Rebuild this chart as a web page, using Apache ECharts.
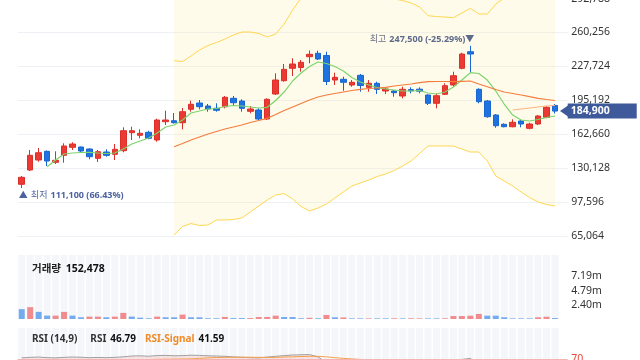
<!DOCTYPE html>
<html>
<head>
<meta charset="utf-8">
<script src="https://cdn.jsdelivr.net/npm/echarts@6/dist/echarts.min.js"></script>
<style>html,body{margin:0;padding:0;background:#fff;}#c{width:640px;height:360px;}</style>
</head>
<body>
<div id="c"></div>
<script>
const days = ['1','2','3','4','5','6','7','8','9','10','11','12','13','14','15','16','17','18','19','20','21','22','23','24','25','26','27','28','29','30','31','32','33','34','35','36','37','38','39','40','41','42','43','44','45','46','47','48','49','50','51','52','53','54','55','56','57','58','59','60','61','62','63','64'];
const opens  = [114650,128370,137960,146300,135750,142470,150140,150430,148510,139590,145630,143430,146880,164150,161650,164530,157140,174690,175660,173730,186590,192630,189750,187550,189080,197140,194550,184670,185920,177290,201270,214030,225920,226700,237040,240300,238200,214690,215370,209900,219200,207690,211530,204140,204140,199350,205500,205900,200310,192350,200980,209900,225920,241840,205770,194550,181120,172200,169900,175370,168360,172490,178920,190240];
const closes = [121360,142470,144960,137000,137670,151390,153310,146590,141130,145920,142470,148220,166060,166060,163570,158770,176330,176330,173730,184290,191390,189080,186880,185630,198100,192920,187550,186880,177290,196180,214700,224960,230040,231670,239350,234840,213260,217280,212490,212490,209420,211530,205770,206060,202510,205770,204300,204000,192350,199640,209230,218820,239630,239630,193880,179490,170860,169900,174120,172490,172490,180160,188510,184900];
const lows   = [111100,127400,136330,132200,134120,135370,147550,144960,138630,136040,141130,137960,145340,157140,158770,157810,155510,171530,172970,167410,184290,186590,184290,184290,187550,190710,184290,182760,176330,176330,200310,213060,218530,222660,230710,233880,209900,209900,204430,208270,203470,203470,201270,201270,198680,197140,201940,201940,190710,187550,200310,208270,224960,221700,192350,178530,168940,169320,169320,169320,167400,171530,177960,182560];
const highs  = [122610,147550,149470,147060,146300,153980,154940,150900,149180,147550,148220,153310,169330,169900,167400,166060,177570,185250,183040,187840,194840,195510,191670,192340,199350,199350,196180,189750,187550,197140,221120,230040,235510,233880,243000,242800,241840,221700,217860,214690,220450,214690,213060,207690,205100,208270,207690,207690,200980,201940,211530,222660,240880,247500,206730,195510,182080,173160,177000,177000,173740,181120,189750,191670];

const ma5  = [null,null,null,131530,137960,143710,144670,145150,145340,144670,144190,144670,148510,153310,156180,159060,163860,169610,171530,176330,183040,184960,186880,187360,189280,190230,189750,188800,187840,188510,195030,203180,213740,221410,227640,231960,230520,227640,223330,217090,212780,209900,207500,206060,205100,204140,204140,204620,202220,201270,203180,207980,214690,221700,220930,214690,204140,191670,181120,176330,175370,176810,178720,180160];
const ma20 = [null,null,null,null,null,null,null,null,null,null,null,null,null,null,null,null,null,null,150720,153790,157140,160020,162900,165300,167690,169610,171530,173930,175850,177960,181600,185440,188800,192150,195510,198390,200310,201750,203180,204620,205770,206540,207020,207690,208940,209900,210860,212100,213060,213260,213260,213060,213450,213740,210860,208270,205580,203180,201750,200310,198680,197140,195990,195030];
const ma60 = [null,null,null,null,null,null,null,null,null,null,null,null,null,null,null,null,null,null,null,null,null,null,null,null,null,null,null,null,null,null,null,null,null,null,null,null,null,null,null,null,null,null,null,null,null,null,null,null,null,null,null,null,null,null,null,null,null,null,185920,186880,187840,188800,189750,190230];
const bollUpper = [null,null,null,null,null,null,null,null,null,null,null,null,null,null,null,null,null,null,233210,232440,237720,243470,247790,250660,254020,257860,260740,260740,259300,255940,258820,268410,281840,293350,302940,310610,314450,316370,316370,314450,310610,305820,301020,296230,292390,290950,288550,284720,276370,275600,275120,274450,278960,283470,278000,278000,287590,293350,299100,302940,304860,305820,305820,305820];
const bollLower = [null,null,null,null,null,null,null,null,null,null,null,null,null,null,null,null,null,null,66020,74170,77050,75130,75610,80410,80410,80890,82320,88080,93840,99590,104390,105830,100550,93360,89040,91920,95750,101510,107260,113020,115900,118770,122130,124530,127890,132200,137000,144190,151390,151390,151390,151390,148510,145630,145630,137000,122610,117820,113020,107260,101990,97670,95270,93840];

const volumes = [1660000,2000000,1200000,570000,570000,1200000,570000,290000,400000,400000,290000,400000,1030000,400000,220000,120000,400000,290000,290000,740000,290000,290000,120000,120000,350000,150000,150000,150000,330000,350000,560000,330000,330000,120000,200000,120000,680000,290000,260000,100000,100000,100000,100000,100000,120000,100000,120000,100000,100000,100000,120000,500000,500000,560000,850000,560000,560000,290000,100000,100000,100000,290000,380000,152478];
const volDir = ['d','u','d','d','u','u','d','d','u','u','d','u','u','d','d','d','u','d','d','u','d','d','d','d','u','d','d','u','u','u','u','d','d','d','u','d','u','d','u','d','d','u','d','d','u','d','u','u','d','d','u','u','u','u','u','d','d','d','d','d','d','u','u','d'];

const rsi = [71.0,71.5,71.8,71.2,71.0,71.5,71.8,71.6,71.2,71.4,71.2,71.5,72.0,72.8,73.0,72.6,73.2,73.4,73.0,73.2,73.6,73.4,73.0,72.8,72.5,72.0,71.5,71.2,71.0,71.8,72.5,73.2,73.8,74.0,74.2,72.0,66.5,64.0,61.0,59.5,58.0,56.5,55.0,53.5,52.0,53.0,52.5,53.5,51.0,55.0,60.0,64.5,69.5,70.5,64.0,57.0,50.0,44.0,42.5,40.0,39.5,42.0,45.5,46.79];
const rsiSignal = [62.0,63.0,64.0,64.5,65.0,65.5,66.0,66.5,67.0,67.5,68.0,68.3,68.6,68.9,69.2,69.4,69.6,69.7,69.8,69.9,70.0,70.5,71.0,71.3,71.5,71.6,71.7,71.6,71.5,71.4,71.5,71.8,72.0,72.3,72.5,72.5,72.0,71.2,70.5,70.0,69.5,68.5,67.0,65.5,64.0,62.5,61.0,59.5,58.5,57.5,57.0,57.5,58.5,60.0,60.5,59.5,57.5,55.0,52.0,49.0,46.5,44.0,42.5,41.59];

const priceTicks = {min: 65064, max: 292788, interval: 32532};
const volTicks = {min: 0, max: 10785000, interval: 2396667};

const cats = days.concat(['']);
const last = closes.length - 1;
let hiIdx = 0, loIdx = 0;
highs.forEach((v,i)=>{ if (v > highs[hiIdx]) hiIdx = i; });
lows.forEach((v,i)=>{ if (v < lows[loIdx]) loIdx = i; });
const fmt = v => Number(v).toLocaleString('en-US');
const hiPct = ((closes[last] - highs[hiIdx]) / highs[hiIdx] * 100).toFixed(2);
const loPct = ((closes[last] - lows[loIdx]) / lows[loIdx] * 100).toFixed(2);

const RED = '#eb3a33', BLUE = '#1f73e0';
const FONT = "'Noto Sans', 'Noto Sans CJK KR', sans-serif";
const L = 17.5, W = 550.2;

const chart = echarts.init(document.getElementById('c'), null, {renderer: 'canvas'});
const xAx = (g) => ({gridIndex: g, type: 'category', data: cats, boundaryGap: true, show: false});
const gridOf = (top, height) => ({left: L, top: top, width: W, height: height, containLabel: false, outerBoundsMode: 'none'});

chart.setOption({
  animation: false,
  textStyle: {fontFamily: FONT},
  title: [
    {left: 32, top: 260.5, padding: 0,
     text: '{a|거래량} {b|' + fmt(volumes[last]) + '}',
     textStyle: {rich: {a: {fontSize: 10.5, color: '#222', fontFamily: FONT}, b: {fontSize: 10.5, fontWeight: 'bold', color: '#111', fontFamily: FONT}}}},
    {left: 32, top: 334, padding: 0,
     text: '{a|RSI (14,9)}{a2|RSI}{b|' + rsi[last].toFixed(2) + '}{c|RSI-Signal}{b|' + rsiSignal[last].toFixed(2) + '}',
     textStyle: {rich: {
       a: {fontSize: 10, color: '#333', fontFamily: FONT},
       a2: {fontSize: 10, color: '#333', fontFamily: FONT, padding: [0, 0, 0, 13]},
       b: {fontSize: 10, fontWeight: 'bold', color: '#111', fontFamily: FONT, padding: [0, 0, 0, 4]},
       c: {fontSize: 10, color: '#f08c2a', fontFamily: FONT, padding: [0, 0, 0, 9]}
     }}}
  ],
  grid: [gridOf(-1.4, 237.4), gridOf(255, 64), gridOf(255, 64), gridOf(328, 103), gridOf(328, 103)],
  xAxis: [xAx(0), xAx(1), xAx(2), xAx(3), xAx(4)],
  yAxis: [
    {gridIndex: 0, type: 'value', position: 'right', min: priceTicks.min, max: priceTicks.max, interval: priceTicks.interval,
     axisLine: {show: false}, axisTick: {show: false},
     splitLine: {lineStyle: {color: '#edf0f5', width: 1}},
     axisLabel: {color: '#333', fontSize: 10.5, margin: 3.5, formatter: v => fmt(v)}},
    {gridIndex: 1, type: 'value', min: 0, max: volTicks.max, show: false},
    {gridIndex: 2, type: 'value', position: 'right', min: volTicks.min, max: volTicks.max, interval: volTicks.interval,
     axisLine: {show: false}, axisTick: {show: false}, splitLine: {show: false},
     axisLabel: {color: '#333', fontSize: 10.5, margin: 3.5, showMaxLabel: false,
       formatter: v => (v > 0 && v < 9000000) ? (v / 1e6).toFixed(2) + 'm' : ''}},
    {gridIndex: 3, type: 'value', min: 0, max: 100, show: false},
    {gridIndex: 4, type: 'value', min: 0, max: 100, show: false}
  ],
  series: [
    {name: 'BB lower', type: 'line', xAxisIndex: 0, yAxisIndex: 0, data: bollLower, symbol: 'none', z: 1,
     lineStyle: {color: '#ffd650', width: 1},
     areaStyle: {origin: 'end', color: 'rgba(255,236,160,0.3)'}},
    {name: 'BB upper', type: 'line', xAxisIndex: 0, yAxisIndex: 0, data: bollUpper, symbol: 'none', z: 1,
     lineStyle: {color: '#ffd650', width: 1}},
    {name: 'price', type: 'candlestick', xAxisIndex: 0, yAxisIndex: 0, barWidth: 6, z: 3,
     data: days.map((d, i) => [opens[i], closes[i], lows[i], highs[i]]),
     itemStyle: {color: RED, color0: BLUE, borderColor: '#dd2f29', borderColor0: '#1866d2', borderWidth: 1},
     markPoint: {
       silent: true,
       data: [
         {coord: [hiIdx, highs[hiIdx]], symbol: 'circle', symbolSize: 0,
          label: {show: true, position: 'inside', align: 'right', verticalAlign: 'middle', offset: [4, -6],
            formatter: '{t|최고} {n|' + fmt(highs[hiIdx]) + ' (' + hiPct + '%)}{n|▼}',
            rich: {t: {fontSize: 9, color: '#6a7085', fontFamily: FONT}, n: {fontSize: 9, color: '#5d6a8a', fontWeight: 'bold', fontFamily: FONT}}}},
         {coord: [loIdx, lows[loIdx]], symbol: 'circle', symbolSize: 0,
          label: {show: true, position: 'inside', align: 'left', verticalAlign: 'middle', offset: [-3, 7.5],
            formatter: '{n|▲} {t|최저} {n|' + fmt(lows[loIdx]) + ' (' + loPct + '%)}',
            rich: {t: {fontSize: 9, color: '#5268a3', fontFamily: FONT}, n: {fontSize: 9, color: '#4c62a0', fontWeight: 'bold', fontFamily: FONT}}}},
         {coord: [last, closes[last]], symbol: 'triangle', symbolRotate: 90, symbolSize: [11, 8], symbolOffset: [9, 0],
          itemStyle: {color: '#3e5a9a'}, label: {show: false}}
       ]
     },
     markLine: {
       silent: true, symbol: 'none',
       lineStyle: {color: 'rgba(0,0,0,0)', width: 0},
       data: [{yAxis: closes[last]}],
       label: {show: true, position: 'end', distance: 0, formatter: fmt(closes[last]),
         backgroundColor: '#3e5a9a', color: '#fff', fontSize: 10.5, fontWeight: 'bold', fontFamily: FONT,
         lineHeight: 11, padding: [2, 27, 2, 3]}
     }},
    {name: 'MA5', type: 'line', xAxisIndex: 0, yAxisIndex: 0, data: ma5, symbol: 'none', z: 4,
     lineStyle: {color: '#7dd46c', width: 1.2}},
    {name: 'MA20', type: 'line', xAxisIndex: 0, yAxisIndex: 0, data: ma20, symbol: 'none', z: 4,
     lineStyle: {color: '#f47d3e', width: 1.2}},
    {name: 'MA60', type: 'line', xAxisIndex: 0, yAxisIndex: 0, data: ma60, symbol: 'none', z: 4,
     lineStyle: {color: '#f9b583', width: 1.2}},
    {name: 'vol-bg', type: 'bar', xAxisIndex: 1, yAxisIndex: 1, data: volumes, barWidth: 7, silent: true,
     itemStyle: {color: 'rgba(0,0,0,0)'}, showBackground: true, backgroundStyle: {color: '#f4f6fa'}},
    {name: 'volume', type: 'bar', xAxisIndex: 2, yAxisIndex: 2, barWidth: 6,
     data: volumes.map((v, i) => ({value: v, itemStyle: {color: volDir[i] === 'u' ? 'rgba(236,70,70,0.6)' : 'rgba(30,120,230,0.6)'}}))},
    {name: 'rsi-bg', type: 'bar', xAxisIndex: 3, yAxisIndex: 3, data: rsi, barWidth: 7, silent: true,
     itemStyle: {color: 'rgba(0,0,0,0)'}, showBackground: true, backgroundStyle: {color: '#f4f6fa'}},
    {name: 'RSI', type: 'line', xAxisIndex: 4, yAxisIndex: 4, data: rsi, symbol: 'none', z: 3,
     lineStyle: {color: '#a0a0a0', width: 1},
     areaStyle: {origin: 70, color: 'rgba(245,170,170,0.4)'},
     markLine: {silent: true, symbol: 'none', data: [{yAxis: 70}],
       lineStyle: {color: '#f6b3b3', type: 'solid', width: 1},
       label: {show: true, position: 'end', distance: 3.5, formatter: '70', color: '#e8473c', fontSize: 10.5, fontFamily: FONT}}},
    {name: 'RSI-Signal', type: 'line', xAxisIndex: 4, yAxisIndex: 4, data: rsiSignal, symbol: 'none', z: 4,
     lineStyle: {color: '#f5a04a', width: 1}}
  ]
});
</script>
</body>
</html>
